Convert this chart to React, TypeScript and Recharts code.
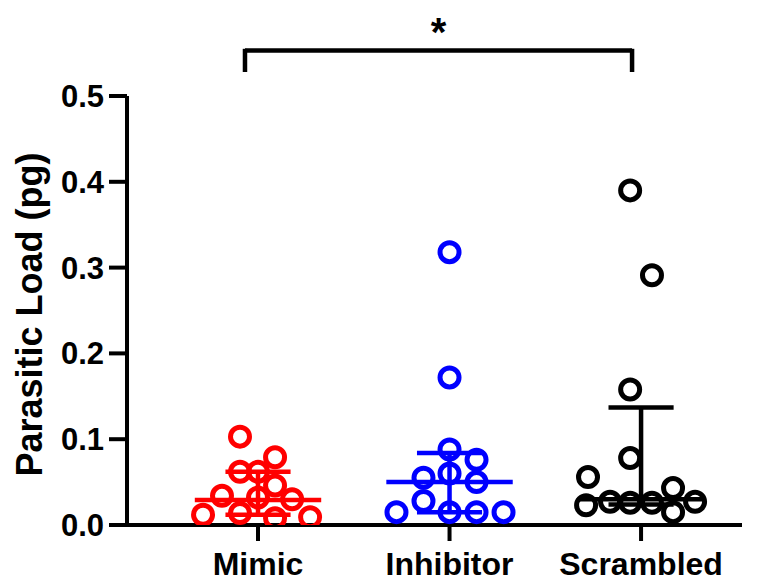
import { ScatterChart, Scatter, XAxis, YAxis, ReferenceLine } from 'recharts';

const FONT = '"Liberation Sans", Arial, Helvetica, sans-serif';

const groups = ['Mimic', 'Inhibitor', 'Scrambled'];
const colors = ['#ff0000', '#0000ff', '#000000'];

// (pg); jitter is the sideways spread in category units
const mimicValues = [0.103, 0.079, 0.062, 0.062, 0.046, 0.034, 0.032, 0.030, 0.012, 0.014, 0.008, 0.009];
const mimicJitter = [-0.094, 0.089, -0.094, 0, 0.089, -0.188, 0, 0.178, -0.287, -0.094, 0.089, 0.272];

const inhibitorValues = [0.318, 0.172, 0.088, 0.076, 0.055, 0.060, 0.050, 0.028, 0.015, 0.015, 0.015, 0.015];
const inhibitorJitter = [0, 0, 0, 0.141, -0.136, 0, 0.141, -0.136, -0.277, 0, 0.141, 0.282];

const scrambledValues = [0.390, 0.291, 0.158, 0.078, 0.056, 0.023, 0.027, 0.026, 0.026, 0.043, 0.015, 0.027];
const scrambledJitter = [-0.057, 0.057, -0.057, -0.057, -0.277, -0.287, -0.162, -0.057, 0.057, 0.167, 0.167, 0.282];

// median with interquartile range
const medians = [0.029, 0.05, 0.03];
const lowerQuartiles = [0.012, 0.015, 0.024];
const upperQuartiles = [0.062, 0.084, 0.137];

const yTicks = [0, 0.1, 0.2, 0.3, 0.4, 0.5];

const series = [
  { values: mimicValues, jitter: mimicJitter },
  { values: inhibitorValues, jitter: inhibitorJitter },
  { values: scrambledValues, jitter: scrambledJitter },
].map((s, i) => s.values.map((v, j) => ({ x: i + 1 + s.jitter[j], y: v })));

export default function App() {
  return (
    <div style={{ position: 'absolute', left: 0, top: 0, background: '#fff' }}>
      <ScatterChart width={762} height={583} margin={{ top: 96, right: 20, bottom: 0, left: 0 }}>
        <XAxis
          type="number"
          dataKey="x"
          domain={[0.316, 3.527]}
          ticks={[1, 2, 3]}
          tickFormatter={(v: number) => groups[v - 1]}
          height={58}
          tickSize={16}
          tickMargin={11}
          axisLine={{ stroke: '#000', strokeWidth: 4 }}
          tickLine={{ stroke: '#000', strokeWidth: 4 }}
          tick={{ fill: '#000', fontSize: 32, fontWeight: 'bold', fontFamily: FONT }}
          allowDataOverflow
        />
        <YAxis
          type="number"
          dataKey="y"
          domain={[0, 0.5]}
          ticks={yTicks}
          tickFormatter={(v: number) => v.toFixed(1)}
          width={127}
          tickSize={18}
          tickMargin={5}
          axisLine={{ stroke: '#000', strokeWidth: 4 }}
          tickLine={{ stroke: '#000', strokeWidth: 4 }}
          tick={{ fill: '#000', fontSize: 31, fontWeight: 'bold', fontFamily: FONT }}
          allowDataOverflow
          label={{
            value: 'Parasitic Load (pg)',
            angle: -90,
            position: 'center',
            dx: -34,
            dy: 4,
            fill: '#000',
            fontSize: 36,
            fontWeight: 'bold',
            fontFamily: FONT,
          }}
        />
        {series.map((pts, i) => (
          <Scatter
            key={groups[i]}
            data={pts}
            isAnimationActive={false}
            shape={(p: any) => (
              <circle cx={p.cx} cy={p.cy} r={9.5} fill="none" stroke={colors[i]} strokeWidth={5} />
            )}
          />
        ))}
        {groups.map((g, i) => [
          <ReferenceLine
            key={g + '-med'}
            segment={[{ x: i + 1 - 0.33, y: medians[i] }, { x: i + 1 + 0.33, y: medians[i] }]}
            stroke={colors[i]}
            strokeWidth={4.5}
            ifOverflow="visible"
          />,
          <ReferenceLine
            key={g + '-v'}
            segment={[{ x: i + 1, y: lowerQuartiles[i] }, { x: i + 1, y: upperQuartiles[i] }]}
            stroke={colors[i]}
            strokeWidth={4.5}
            ifOverflow="visible"
          />,
          <ReferenceLine
            key={g + '-hi'}
            segment={[{ x: i + 1 - 0.17, y: upperQuartiles[i] }, { x: i + 1 + 0.17, y: upperQuartiles[i] }]}
            stroke={colors[i]}
            strokeWidth={4.5}
            ifOverflow="visible"
          />,
          <ReferenceLine
            key={g + '-lo'}
            segment={[{ x: i + 1 - 0.17, y: lowerQuartiles[i] }, { x: i + 1 + 0.17, y: lowerQuartiles[i] }]}
            stroke={colors[i]}
            strokeWidth={4.5}
            ifOverflow="visible"
          />,
        ])}
        {/* significance bracket Mimic vs Scrambled */}
        <ReferenceLine
          segment={[{ x: 0.932, y: 0.553 }, { x: 2.953, y: 0.553 }]}
          stroke="#000"
          strokeWidth={4.5}
          ifOverflow="visible"
          label={{ value: '*', position: 'top', offset: 5, fill: '#000', fontSize: 40, fontWeight: 'bold', fontFamily: FONT }}
        />
        <ReferenceLine
          segment={[{ x: 0.932, y: 0.555 }, { x: 0.932, y: 0.528 }]}
          stroke="#000"
          strokeWidth={4.5}
          ifOverflow="visible"
        />
        <ReferenceLine
          segment={[{ x: 2.953, y: 0.555 }, { x: 2.953, y: 0.528 }]}
          stroke="#000"
          strokeWidth={4.5}
          ifOverflow="visible"
        />
      </ScatterChart>
    </div>
  );
}
